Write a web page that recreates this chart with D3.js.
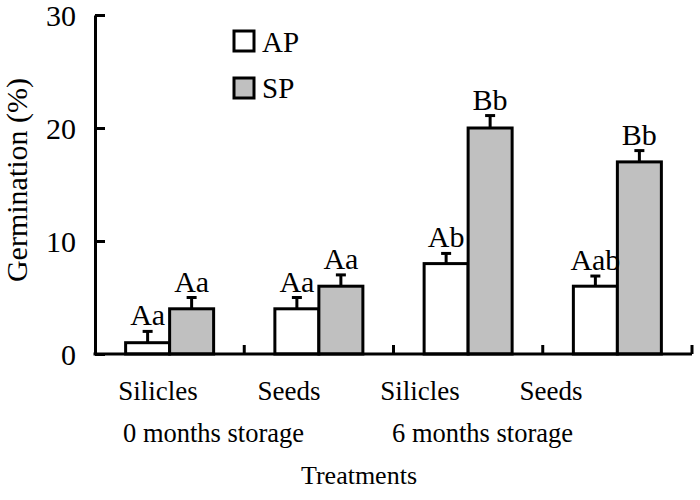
<!DOCTYPE html>
<html>
<head>
<meta charset="utf-8">
<script src="https://cdn.jsdelivr.net/npm/d3@7"></script>
<style>
  html, body { margin: 0; padding: 0; background: #fff; }
</style>
</head>
<body>
<svg id="chart" width="700" height="500"></svg>
<script>
const FONT = "'Liberation Serif', 'Times New Roman', Times, 'DejaVu Serif', serif";
const categories = ["Silicles", "Seeds", "Silicles ", "Seeds "];
const categoryLabels = ["Silicles", "Seeds", "Silicles", "Seeds"];
const series = ["AP", "SP"];
const apValues = [1, 4, 8, 6];
const spValues = [4, 6, 20, 17];
const apErrors = [1, 1, 0.9, 0.9];
const spErrors = [1, 1, 1.1, 1.0];
const apLetters = ["Aa", "Aa", "Ab", "Aab"];
const spLetters = ["Aa", "Aa", "Bb", "Bb"];
const yTicks = [0, 10, 20, 30];
const storageLabels = ["0 months storage", "6 months storage"];
const colors = { AP: "#ffffff", SP: "#c0c0c0" };

const svg = d3.select("#chart").style("font-family", FONT);

const x = d3.scaleBand().domain(categories).range([95, 692]).paddingInner(0).paddingOuter(0);
const xSub = d3.scaleBand().domain(series).range([0, x.bandwidth()]).paddingInner(0).paddingOuter(0.696);
const xLabel = d3.scaleBand().domain(categories).range([92.5, 616.5]);
const y = d3.scaleLinear().domain([0, 30]).range([354, 15]);

const rows = [];
categories.forEach((c, i) => {
  rows.push({ cat: c, s: "AP", v: apValues[i], e: apErrors[i], t: apLetters[i] });
  rows.push({ cat: c, s: "SP", v: spValues[i], e: spErrors[i], t: spLetters[i] });
});

function txt(sel) { return sel.style("font-family", FONT).attr("fill", "#000"); }

// Bars
svg.append("g").selectAll("rect").data(rows).join("rect")
  .attr("x", d => x(d.cat) + xSub(d.s))
  .attr("y", d => y(d.v))
  .attr("width", xSub.bandwidth())
  .attr("height", d => y(0) - y(d.v))
  .attr("fill", d => colors[d.s])
  .attr("stroke", "#000")
  .attr("stroke-width", 3);

// Error bars
const eg = svg.append("g").attr("stroke", "#000").attr("stroke-width", 3);
rows.forEach(d => {
  const cx = x(d.cat) + xSub(d.s) + xSub.bandwidth() / 2;
  eg.append("line").attr("x1", cx).attr("x2", cx).attr("y1", y(d.v)).attr("y2", y(d.v + d.e));
  eg.append("line").attr("x1", cx - 5).attr("x2", cx + 5).attr("y1", y(d.v + d.e)).attr("y2", y(d.v + d.e));
});

// Significance letters
svg.append("g").selectAll("text").data(rows).join("text")
  .attr("x", d => x(d.cat) + xSub(d.s) + xSub.bandwidth() / 2)
  .attr("y", d => y(d.v + d.e) - 6)
  .attr("text-anchor", "middle")
  .attr("font-size", 30)
  .call(txt)
  .text(d => d.t);

// Y axis
const yAxis = d3.axisLeft(y).tickValues(yTicks).tickSizeInner(-10).tickSizeOuter(0).tickPadding(19).tickFormat(d3.format("d"));
const gy = svg.append("g").attr("transform", "translate(95,0)").call(yAxis);
gy.select(".domain").attr("stroke", "#000").attr("stroke-width", 3);
gy.selectAll(".tick line").attr("stroke", "#000").attr("stroke-width", 3);
gy.selectAll(".tick text").attr("font-size", 30).call(txt).attr("dy", "0.35em");

// X axis baseline and group-boundary ticks
const gx = svg.append("g").attr("stroke", "#000").attr("stroke-width", 3);
gx.append("line").attr("x1", x.range()[0] - 1.5).attr("x2", x.range()[1]).attr("y1", y(0)).attr("y2", y(0));
categories.forEach(c => {
  const bx = x(c) + x.bandwidth();
  gx.append("line").attr("x1", bx).attr("x2", bx).attr("y1", y(0)).attr("y2", y(0) - 9);
});

// Category labels
svg.append("g").selectAll("text").data(categories).join("text")
  .attr("x", d => xLabel(d) + xLabel.bandwidth() / 2)
  .attr("y", 400)
  .attr("text-anchor", "middle")
  .attr("font-size", 27)
  .call(txt)
  .text((d, i) => categoryLabels[i]);

// Storage labels
svg.append("text").attr("x", 123).attr("y", 442).attr("font-size", 26.5).call(txt).text(storageLabels[0]);
svg.append("text").attr("x", 392).attr("y", 442).attr("font-size", 26.5).call(txt).text(storageLabels[1]);

// Axis titles
svg.append("text").attr("x", 359).attr("y", 484).attr("text-anchor", "middle").attr("font-size", 26).call(txt).text("Treatments");
svg.append("text").attr("transform", "translate(27,180) rotate(-90)").attr("text-anchor", "middle").attr("font-size", 30).call(txt).text("Germination (%)");

// Legend
const lg = svg.append("g");
series.forEach((s, i) => {
  lg.append("rect").attr("x", 234).attr("y", 31 + i * 47).attr("width", 20).attr("height", 20)
    .attr("fill", colors[s]).attr("stroke", "#000").attr("stroke-width", 3);
  lg.append("text").attr("x", 262).attr("y", 52 + i * 46).attr("font-size", 29).call(txt).text(s);
});
</script>
</body>
</html>
